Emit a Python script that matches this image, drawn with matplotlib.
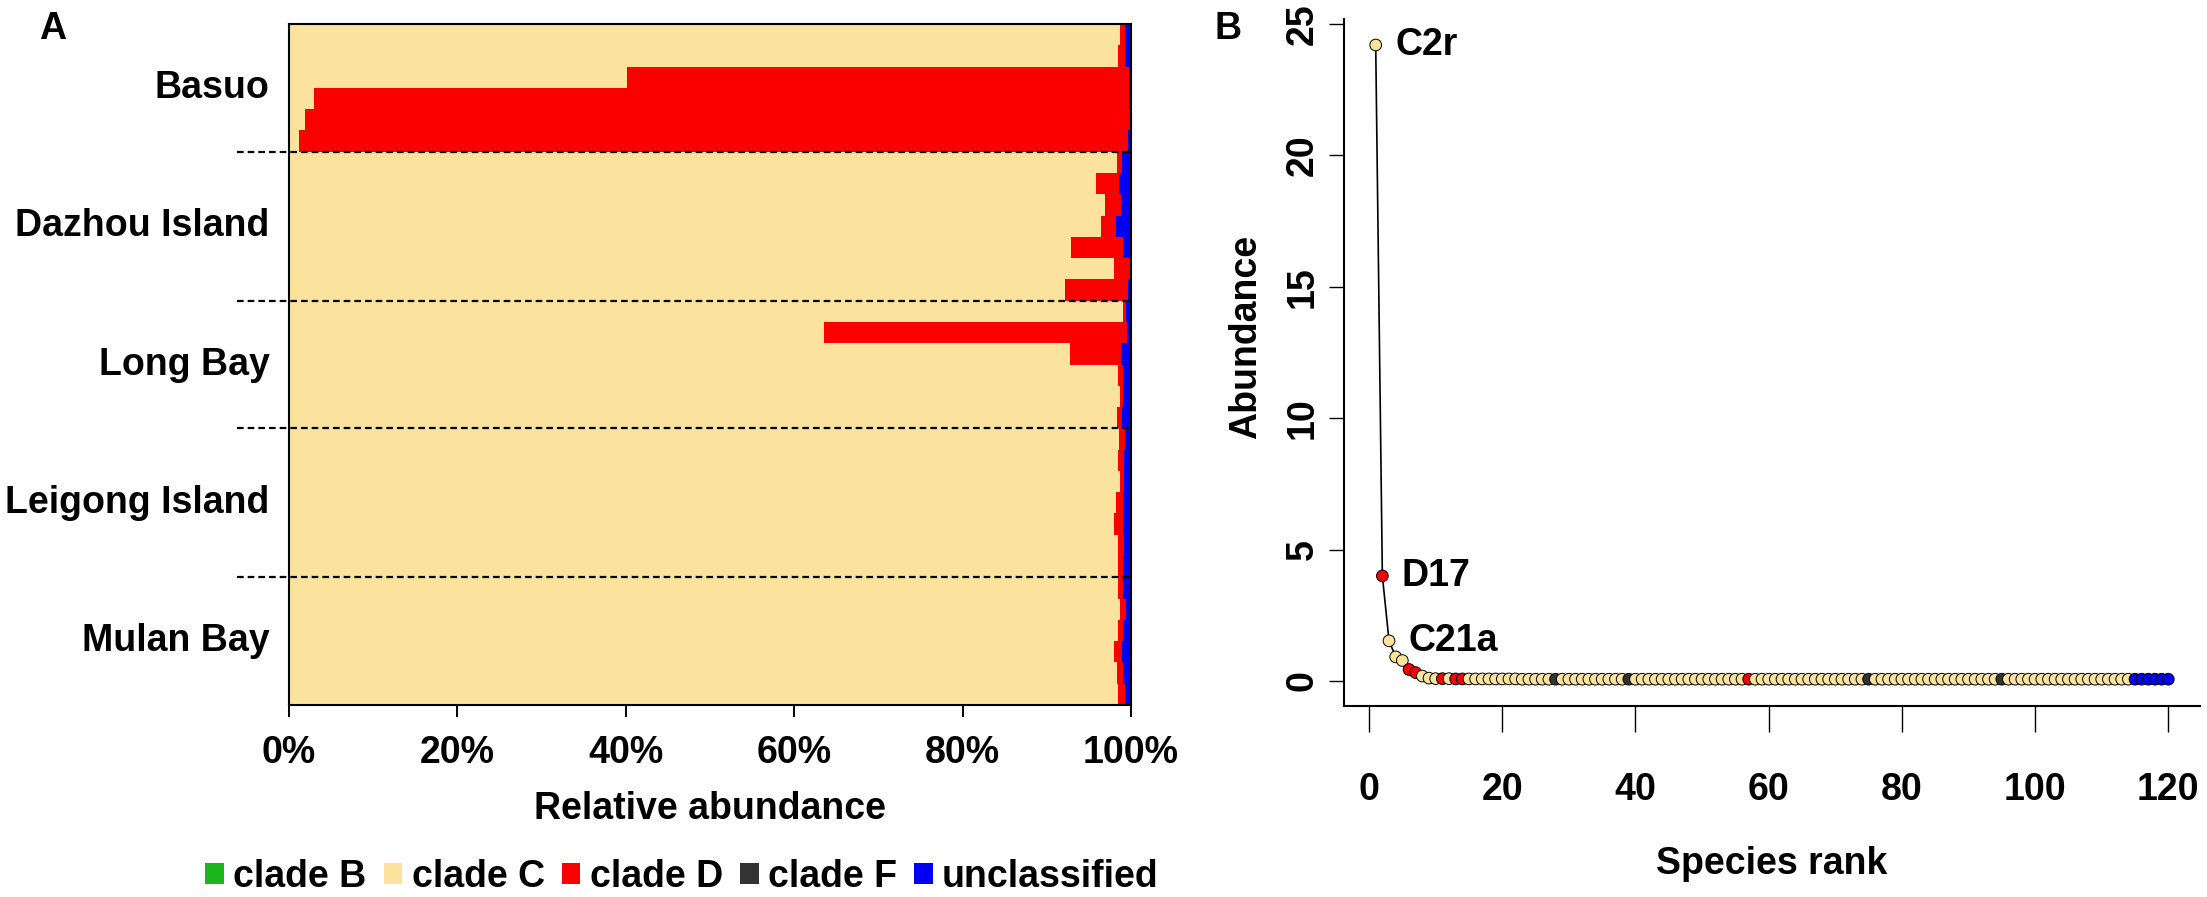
"""Symbiodinium clade composition (A) and rank-abundance curve (B)"""
import numpy as np
from matplotlib import pyplot as plt
from matplotlib.patches import Patch

plt.rcParams['font.family'] = ['Liberation Sans', 'DejaVu Sans']
plt.rcParams['font.weight'] = 'bold'
plt.rcParams['axes.labelweight'] = 'bold'

# ---- panel A data: one row per sample, listed top to bottom (percent)
sites = ['Basuo', 'Dazhou Island', 'Long Bay', 'Leigong Island', 'Mulan Bay']
site_n = [6, 7, 6, 7, 6]
clade_c = [98.7, 98.5, 40.2, 3.0, 1.9, 1.2,
           98.3, 95.8, 96.9, 96.4, 92.9, 98.0, 92.2,
           99.0, 63.5, 92.7, 98.5, 98.7, 98.3,
           98.6, 98.5, 98.7, 98.2, 98.0, 98.5, 98.5,
           98.4, 98.7, 98.4, 98.0, 98.3, 98.4]
clade_d = [0.6, 0.8, 59.6, 96.8, 98.0, 98.4,
           0.6, 2.8, 1.9, 1.8, 6.1, 1.9, 7.5,
           0.4, 36.0, 6.1, 0.5, 0.4, 0.6,
           0.7, 0.7, 0.5, 0.9, 1.0, 0.7, 0.6,
           0.7, 0.7, 0.7, 0.9, 0.7, 0.9]
unclassified = [0.7, 0.7, 0.2, 0.2, 0.1, 0.4,
                1.1, 1.4, 1.2, 1.8, 1.0, 0.1, 0.3,
                0.6, 0.5, 1.2, 1.0, 0.9, 1.1,
                0.7, 0.8, 0.8, 0.9, 1.0, 0.8, 0.9,
                0.9, 0.6, 0.9, 1.1, 1.0, 0.7]

# ---- panel B data: abundance by species rank, and clade of each rank
abundance = [24.2, 4.0, 1.53, 0.92, 0.78, 0.44, 0.32, 0.19, 0.11, 0.09,
             0.09, 0.09, 0.08, 0.08, 0.08, 0.08, 0.08, 0.08, 0.08, 0.08,
             0.08, 0.08, 0.07, 0.07, 0.07, 0.07, 0.07, 0.07, 0.07, 0.07,
             0.07, 0.07, 0.07, 0.07, 0.07, 0.07, 0.07, 0.07, 0.07, 0.07,
             0.07, 0.07, 0.07, 0.07, 0.07, 0.07, 0.07, 0.07, 0.07, 0.07,
             0.07, 0.07, 0.07, 0.07, 0.07, 0.07, 0.07, 0.07, 0.07, 0.07,
             0.07, 0.07, 0.07, 0.07, 0.07, 0.07, 0.07, 0.07, 0.07, 0.07,
             0.07, 0.07, 0.07, 0.07, 0.07, 0.07, 0.07, 0.07, 0.07, 0.07,
             0.07, 0.07, 0.07, 0.07, 0.07, 0.07, 0.07, 0.07, 0.07, 0.07,
             0.07, 0.07, 0.07, 0.07, 0.07, 0.07, 0.07, 0.07, 0.07, 0.07,
             0.07, 0.07, 0.07, 0.07, 0.07, 0.07, 0.07, 0.07, 0.07, 0.07,
             0.07, 0.07, 0.07, 0.07, 0.07, 0.07, 0.07, 0.07, 0.07, 0.07]
rank_clade = ('CDCCCDDCCC' 'DCDDCCCCCC' 'CCCCCCCFCC' 'CCCCCCCCFC'
              'CCCCCCCCCC' 'CCCCCCDCCC' 'CCCCCCCCCC' 'CCCCFCCCCC'
              'CCCCCCCCCC' 'CCCCFCCCCC' 'CCCCCCCCCC' 'CCCCUUUUUU')
top_labels = ['C2r', 'D17', 'C21a']

legend_names = ['clade B', 'clade C', 'clade D', 'clade F', 'unclassified']
clade_colors = {'B': '#1db51d', 'C': '#fbe39e', 'D': '#fa0000',
                'F': '#333333', 'U': '#0000f5'}

W, H = 2207, 897
fig = plt.figure(figsize=(W / 100, H / 100), dpi=100)
axA = fig.add_axes([289 / W, 1 - 705 / H, 842 / W, 681 / H])
axB = fig.add_axes([1344 / W, 1 - 706 / H, 856 / W, 686.5 / H])

# ---------------- panel A
n = len(clade_c)
ypos = np.arange(n)[::-1]
c = np.array(clade_c)
d = np.array(clade_d)
u = np.array(unclassified)
axA.barh(ypos, c, height=1.0, color=clade_colors['C'], linewidth=0)
axA.barh(ypos, d, left=c, height=1.0, color=clade_colors['D'], linewidth=0)
axA.barh(ypos, u, left=c + d, height=1.0, color=clade_colors['U'], linewidth=0)
axA.set_xlim(0, 100)
axA.set_ylim(-0.5, n - 0.5)

edges = n - 0.5 - np.cumsum(site_n)
for e in edges[:-1]:
    axA.plot([-6.2, 100], [e, e], color='black', lw=1.6, dashes=(3, 1.8),
             clip_on=False, zorder=5)
centers = edges + np.array(site_n) / 2
for name, cy in zip(sites, centers):
    axA.text(-0.023, cy, name, transform=axA.get_yaxis_transform(),
             ha='right', va='center', fontsize=27, fontweight='bold')

axA.set_xticks([0, 20, 40, 60, 80, 100])
axA.set_xticklabels(['0%', '20%', '40%', '60%', '80%', '100%'])
axA.set_yticks([])
axA.tick_params(axis='x', length=8.6, width=1.4, labelsize=27, pad=13)
for s in axA.spines.values():
    s.set_linewidth(1.5)
axA.set_xlabel('Relative abundance', fontsize=27, va='center')
axA.xaxis.set_label_coords(0.5, -0.1527)

# ---------------- panel B
rank = np.arange(1, len(abundance) + 1)
pt_colors = [clade_colors[k] for k in rank_clade]
axB.plot(rank, abundance, color='black', lw=1.2, zorder=1)
axB.scatter(rank, abundance, s=8.4 ** 2, c=pt_colors, edgecolors='black',
            linewidths=0.7, zorder=2)
for i, lab in enumerate(top_labels):
    axB.annotate(lab, (rank[i], abundance[i]), xytext=(14, 0),
                 textcoords='offset points', ha='left', va='center',
                 fontsize=27, fontweight='bold')

axB.set_xlim(-3.76, 124.76)
axB.set_ylim(-0.95, 25.17)
axB.spines['top'].set_visible(False)
axB.spines['right'].set_visible(False)
axB.spines['left'].set_linewidth(1.5)
axB.spines['bottom'].set_linewidth(1.5)
axB.set_xticks(np.arange(0, 121, 20))
axB.set_yticks(np.arange(0, 26, 5))
axB.set_yticklabels([str(v) for v in range(0, 26, 5)], rotation=90,
                    va='center')
axB.tick_params(axis='x', length=18.7, width=1.0, labelsize=27, pad=29)
axB.tick_params(axis='y', length=10.8, width=1.0, labelsize=27, pad=6)
axB.set_xlabel('Species rank', fontsize=27, va='center')
axB.xaxis.set_label_coords(0.5, -0.2302)
axB.set_ylabel('Abundance', fontsize=27, va='center', ha='center')
axB.yaxis.set_label_coords(-0.1145, 0.5375)

# panel letters
fig.text(53 / W, 1 - 29 / H, 'A', fontsize=27, fontweight='bold',
         ha='center', va='center')
fig.text(1228 / W, 1 - 29 / H, 'B', fontsize=27, fontweight='bold',
         ha='center', va='center')

# legend under panel A
handles = [Patch(facecolor=clade_colors[k], edgecolor='none') for k in 'BCDFU']
fig.legend(handles, legend_names, loc='center', ncol=5, frameon=False,
           bbox_to_anchor=(682 / W, 1 - 877 / H), handlelength=0.5,
           handleheight=0.5, handletextpad=0.25, columnspacing=0.45,
           prop={'size': 27, 'weight': 'bold'})

fig.savefig('out.png', dpi=100)
